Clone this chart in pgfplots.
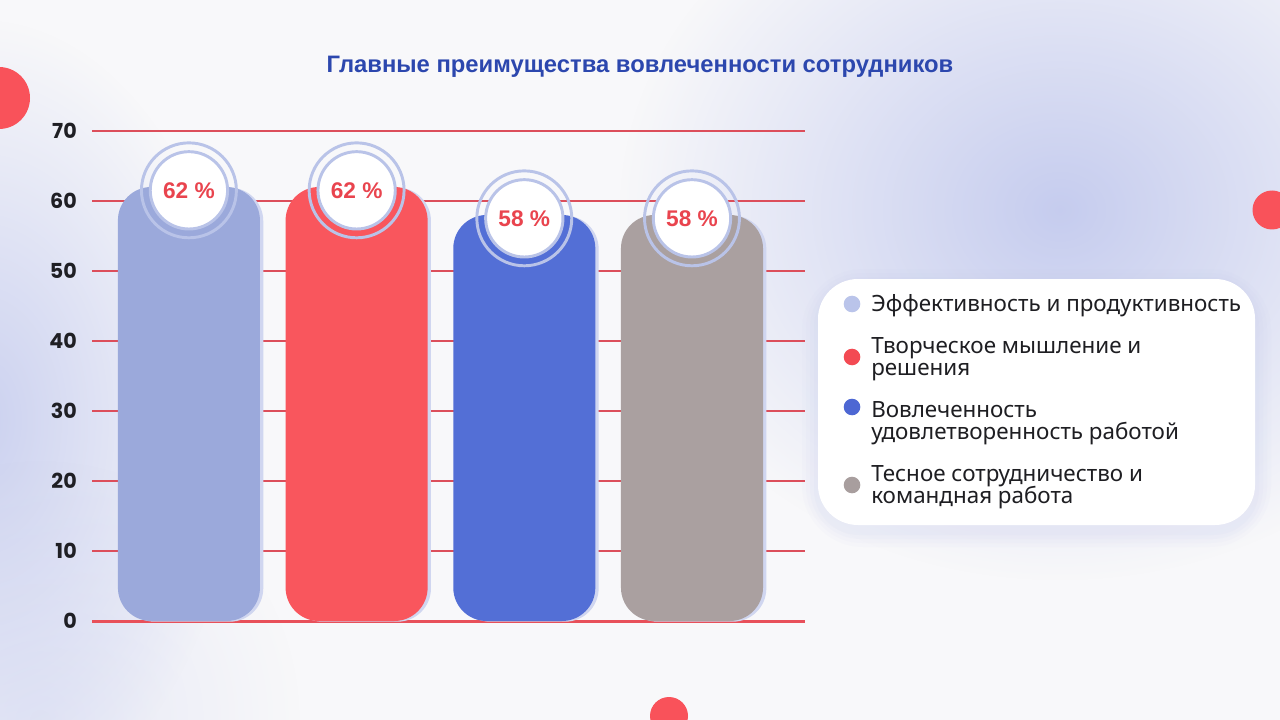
\documentclass[border=0pt]{standalone}
\usepackage{pgfplots}
\pgfplotsset{compat=1.18}
\usetikzlibrary{fadings}
\usepackage{fontspec}
\setmainfont{Noto Sans}
\newfontfamily\tickfont{Poppins}
\newfontfamily\boldsans{Liberation Sans}
\definecolor{bg}{HTML}{F8F8FA}
\definecolor{blob}{HTML}{C3CAEE}
\definecolor{dotred}{HTML}{F9525A}
\definecolor{titleblue}{HTML}{2C47AE}
\definecolor{gridred}{HTML}{DC4E5B}
\definecolor{axisred}{HTML}{E8505A}
\definecolor{tickc}{HTML}{1F1F24}
\definecolor{cA}{HTML}{9BA9DB}
\definecolor{cB}{HTML}{F9565D}
\definecolor{cC}{HTML}{536FD6}
\definecolor{cD}{HTML}{AAA0A0}
\definecolor{shadowc}{HTML}{D0D6F0}
\definecolor{ringc}{HTML}{B9C3E8}
\definecolor{pctred}{HTML}{E9444E}
\definecolor{lA}{HTML}{BAC4EA}
\definecolor{lB}{HTML}{F34A53}
\definecolor{lC}{HTML}{4D67D3}
\definecolor{lD}{HTML}{A89E9E}
\definecolor{legtext}{HTML}{1E1E22}
\tikzfading[name=softblob, inner color=transparent!0, outer color=transparent!100]
\begin{document}
\begin{tikzpicture}
\useasboundingbox (0,0) rectangle (960pt,-540pt);
\clip (0,0) rectangle (960pt,-540pt);
\begin{scope}[x=0.75pt,y=-0.75pt]
\fill[bg] (0,0) rectangle (1280,720);
\fill[blob, path fading=softblob, opacity=0.95] (1060,210) ellipse (440 and 370);
\fill[blob, path fading=softblob, opacity=0.85] (-20,420) ellipse (260 and 400);
\fill[blob, path fading=softblob, opacity=0.35] (40,720) circle (260);
\fill[dotred] (-1,98) circle (31);
\fill[dotred] (1272,210) circle (19.5);
\fill[dotred] (669,716) circle (19);
\node[text=titleblue, font=\boldsans\bfseries\fontsize{17.85}{20}\selectfont, inner sep=0pt, anchor=base] at (640,72.5) {Главные преимущества вовлеченности сотрудников};
% legend box
\foreach \d/\o in {16/0.05,12/0.06,8/0.07,4/0.08}{
  \fill[blob, opacity=\o, rounded corners={30+\d}] (818-\d,279-\d+6) rectangle (1255+\d,525+\d+6);
}
\fill[white, rounded corners=30] (818,279) rectangle (1255,525);
\fill[lA] (852,304) circle (8.3);
\fill[lB] (852,357) circle (8.3);
\fill[lC] (852,407) circle (8.3);
\fill[lD] (852,485) circle (8.3);
\begin{scope}[every node/.style={anchor=base west, inner sep=0pt, text=legtext, font=\fontsize{16.8}{16.8}\selectfont}]
\node at (871,311.5) {Эффективность и продуктивность};
\node at (871,353) {Творческое мышление и};
\node at (871,375) {решения};
\node at (871,417.5) {Вовлеченность};
\node at (871,439.5) {удовлетворенность работой};
\node at (871,481.5) {Тесное сотрудничество и};
\node at (871,503.5) {командная работа};
\end{scope}
\end{scope}
\begin{axis}[
  at={(69pt,-465.75pt)}, anchor=south west,
  scale only axis, width=534.75pt, height=367.5pt,
  xmin=-0.578, xmax=3.674, ymin=0, ymax=70,
  ytick={0,10,20,30,40,50,60,70},
  xtick=\empty,
  axis x line*=bottom,
  axis y line*=left,
  x axis line style={draw=axisred, line width=2.25pt, -},
  y axis line style={draw=none},
  major tick length=0pt,
  /pgf/number format/assume math mode=true,
  yticklabel style={font=\tickfont\bfseries\fontsize{15.5}{16}\selectfont, text=tickc, inner sep=0pt, xshift=-11.25pt},
  clip=false,
]
\foreach \v in {10,20,30,40,50,60,70}{
  \edef\tmp{\noexpand\draw[color=gridred, line width=0.8pt] (axis cs:-0.578,\v) -- (axis cs:3.674,\v);}\tmp
}
\addplot[ybar, bar width=0.847, bar shift=0pt, fill=shadowc, draw=none, rounded corners=25pt, xshift=2.5pt, yshift=-0.5pt] coordinates {(0,62) (1,62) (2,58) (3,58)};
\addplot[ybar, bar width=0.847, bar shift=0pt, fill=cA, draw=none, rounded corners=25pt] coordinates {(0,62)};
\addplot[ybar, bar width=0.847, bar shift=0pt, fill=cB, draw=none, rounded corners=25pt] coordinates {(1,62)};
\addplot[ybar, bar width=0.847, bar shift=0pt, fill=cC, draw=none, rounded corners=25pt] coordinates {(2,58)};
\addplot[ybar, bar width=0.847, bar shift=0pt, fill=cD, draw=none, rounded corners=25pt] coordinates {(3,58)};
\addplot[only marks, mark=o, mark size=35.6pt, yshift=-2.5pt, mark options={draw=ringc, line width=2.2pt}] coordinates {(0,62) (1,62) (2,58) (3,58)};
\addplot[only marks, mark=*, mark size=29pt, yshift=-2.5pt, mark options={draw=ringc, fill=white, line width=2.2pt},
  nodes near coords={\pgfmathprintnumber{\pgfplotspointmeta}~\%},
  every node near coord/.style={anchor=center, text=pctred, font=\boldsans\bfseries\fontsize{17}{18}\selectfont}] coordinates {(0,62) (1,62) (2,58) (3,58)};
\end{axis}
\end{tikzpicture}
\end{document}
